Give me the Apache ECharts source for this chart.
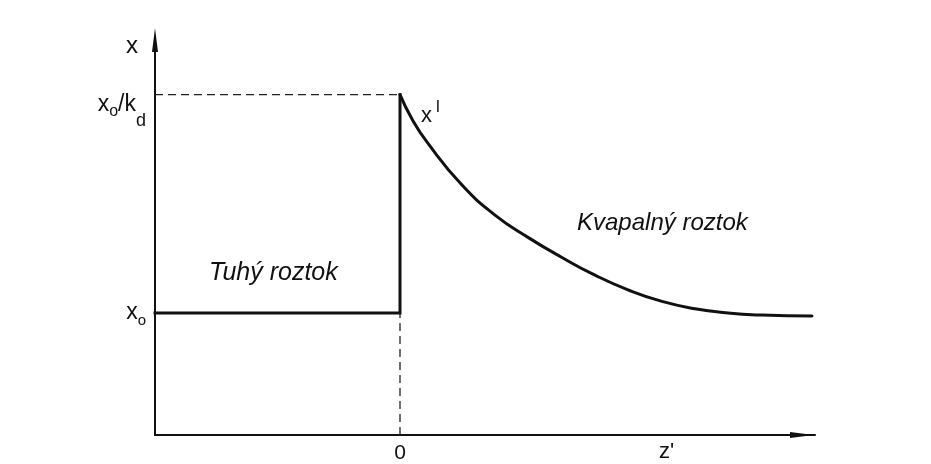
<!DOCTYPE html>
<html>
<head>
<meta charset="utf-8">
<script src="https://cdn.jsdelivr.net/npm/echarts@6/dist/echarts.min.js"></script>
<style>
  html, body { margin: 0; padding: 0; background: #fff; }
  #chart { width: 931px; height: 464px; }
</style>
</head>
<body>
<div id="chart"></div>
<script>
// Concentration profile at a moving solidification front (z' = distance from the interface)
const X0 = 1.0;            // initial concentration x0
const X0_KD = 2.79;        // x0 / k_d, liquid concentration at the interface
const Z_LEFT = -2.45;      // left end of the drawn solid region

// liquid-side profile x^l(z')
const liquidZ = [0, 0.12, 0.28, 0.62, 0.95, 1.28, 1.62, 1.95, 2.28, 2.62, 2.95, 3.28, 3.62, 4.12];
const liquidX = [2.79, 2.59, 2.39, 2.049, 1.803, 1.62, 1.455, 1.31, 1.19, 1.095, 1.035, 1.0, 0.983, 0.975];

// solid side: constant x0 up to the interface, then the jump to x0/k_d
const solidZ = [Z_LEFT, 0, 0];
const solidX = [X0, X0, X0_KD];

const yTickValues = [X0, X0_KD];
const xTickValues = [0];

const pairs = (xs, ys) => xs.map((v, i) => [v, ys[i]]);

const chart = echarts.init(document.getElementById('chart'));
const FONT = 'Liberation Sans';
const INK = '#111';

chart.setOption({
  backgroundColor: '#ffffff',
  animation: false,
  grid: { left: 155, right: 116, top: 40, bottom: 29 },
  xAxis: {
    type: 'value',
    min: Z_LEFT, max: 4.15,
    axisLine: {
      onZero: false,
      symbol: ['none', 'triangle'],
      symbolSize: [6, 24],
      symbolOffset: [0, -13],
      lineStyle: { color: INK, width: 2 }
    },
    axisTick: { show: false },
    splitLine: { show: false },
    axisLabel: {
      customValues: xTickValues,
      formatter: v => String(v),
      margin: 8,
      color: INK,
      fontFamily: FONT,
      fontSize: 21
    }
  },
  yAxis: {
    type: 'value',
    min: 0, max: 3.238,
    axisLine: {
      onZero: false,
      symbol: ['none', 'triangle'],
      symbolSize: [6, 24],
      lineStyle: { color: INK, width: 2 }
    },
    axisTick: { show: false },
    splitLine: { show: false },
    axisLabel: {
      customValues: yTickValues,
      margin: 9,
      color: INK,
      fontFamily: FONT,
      formatter: v => v === X0
        ? '{v|x}{s|o}'
        : '{gap| }\n{vd|x}{sd|o}{kd|/}{kd|k}{dd|d}',
      rich: {
        v:   { fontSize: 23, fontFamily: FONT, color: INK, lineHeight: 30, verticalAlign: 'middle' },
        s:   { fontSize: 15, fontFamily: FONT, color: INK, lineHeight: 15, verticalAlign: 'bottom' },
        gap: { fontSize: 10, lineHeight: 34 },
        vd:  { fontSize: 23, fontFamily: FONT, color: INK, lineHeight: 26, verticalAlign: 'top' },
        sd:  { fontSize: 16, fontFamily: FONT, color: INK, lineHeight: 16, verticalAlign: 'middle' },
        kd:  { fontSize: 23, fontFamily: FONT, color: INK, lineHeight: 36, verticalAlign: 'top' },
        dd:  { fontSize: 18, fontFamily: FONT, color: INK, lineHeight: 18, verticalAlign: 'bottom' }
      }
    }
  },
  series: [
    {
      name: 'guide-top', type: 'line', symbol: 'none', silent: true,
      data: [[Z_LEFT, X0_KD], [0, X0_KD]],
      lineStyle: { color: '#222', width: 1.3, type: [8, 5] }
    },
    {
      name: 'guide-zero', type: 'line', symbol: 'none', silent: true,
      data: [[0, 0], [0, X0]],
      lineStyle: { color: '#222', width: 1.3, type: [8, 5] }
    },
    {
      name: 'solid', type: 'line', symbol: 'none', silent: true,
      data: pairs(solidZ, solidX),
      lineStyle: { color: INK, width: 3, cap: 'square', join: 'miter' }
    },
    {
      name: 'liquid', type: 'line', symbol: 'none', silent: true, clip: false,
      smooth: 0.5,
      data: pairs(liquidZ, liquidX),
      lineStyle: { color: INK, width: 3, cap: 'round' }
    }
  ],
  graphic: [
    { type: 'text', left: 126, top: 34, style: { text: 'x', font: '24px ' + FONT, fill: INK } },
    { type: 'text', left: 659, top: 441, style: { text: "z'", font: '22px ' + FONT, fill: INK } },
    {
      type: 'text', left: 421, top: 99,
      style: {
        text: '{v|x}{u|l}',
        rich: {
          v: { fontSize: 22, fontFamily: FONT, fill: INK, lineHeight: 28, verticalAlign: 'bottom' },
          u: { fontSize: 17, fontFamily: FONT, fill: INK, lineHeight: 20, verticalAlign: 'top', padding: [0, 0, 0, 4] }
        }
      }
    },
    { type: 'text', left: 209, top: 261, style: { text: 'Tuhý roztok', font: 'italic 25px ' + FONT, fill: INK } },
    { type: 'text', left: 577, top: 211, style: { text: 'Kvapalný roztok', font: 'italic 24px ' + FONT, fill: INK } }
  ]
});
</script>
</body>
</html>
